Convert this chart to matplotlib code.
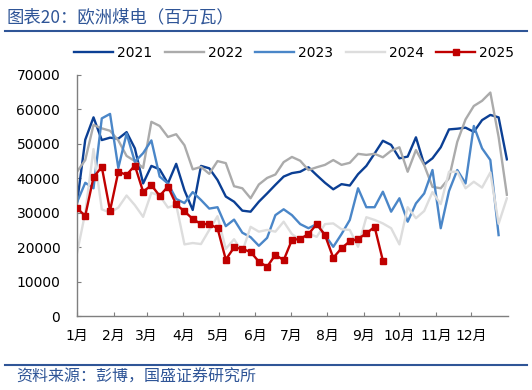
import numpy as np
import matplotlib
matplotlib.use("Agg")
from matplotlib import pyplot as plt
from matplotlib.lines import Line2D

plt.rcParams['font.family'] = ['DejaVu Sans', 'Noto Sans CJK SC']

# weekly values, week 1 at the start of January
y2021 = [32700, 51200, 57700, 51100, 51800, 51500, 53400, 48700, 38500, 43600,
         42600, 38500, 44200, 36500, 30800, 43600, 42900, 39500, 34700, 33200,
         30600, 30300, 33200, 35600, 38100, 40500, 41500, 41900, 43200, 40900,
         38700, 36800, 38300, 37900, 41200, 43600, 47200, 50900, 49700, 45800,
         46300, 51900, 44000, 45800, 49000, 54200, 54400, 54700, 53500, 56900,
         58400, 57700, 45500]
y2022 = [41900, 45300, 55500, 54500, 53800, 51000, 46500, 45000, 43000, 56400,
         55200, 52000, 52800, 49600, 42600, 43300, 41300, 45000, 44400, 37700,
         37100, 34200, 38200, 40100, 41100, 44700, 46200, 45100, 42400, 43200,
         43900, 45300, 43900, 44500, 47100, 46800, 47100, 46100, 48000, 49000,
         41900, 48200, 43800, 37500, 37100, 40000, 50600, 57100, 61000, 62500,
         64900, 52000, 35200]
y2023 = [33000, 38700, 37100, 57400, 58700, 43000, 53000, 44800, 47300, 51000,
         40500, 38500, 34000, 32800, 36000, 33700, 31200, 31600, 26100, 28000,
         24200, 22900, 20400, 22700, 29300, 31000, 29300, 26700, 25500, 26700,
         23500, 20100, 23800, 27900, 37100, 31600, 31600, 36100, 30300, 34200,
         27400, 32700, 35600, 42400, 25500, 36300, 42400, 38500, 55200, 48700,
         45300, 23500]
y2024 = [18200, 30000, 48500, 31000, 30000, 31500, 35000, 32200, 28800, 35800,
         35000, 31500, 32300, 20800, 21200, 20900, 25000, 29000, 19500, 22300,
         18700, 25900, 24500, 25000, 24500, 27400, 23800, 22100, 24000, 23000,
         26700, 26900, 25200, 25000, 20100, 28700, 27900, 26900, 25500, 20800,
         31600, 28400, 30500, 36000, 32500, 41900, 41900, 37100, 39000, 37300,
         41700, 26800, 34200]
y2025 = [31300, 29100, 40300, 43300, 30600, 41900, 41000, 43700, 36100, 38000,
         34900, 37600, 32400, 30400, 28200, 26700, 26700, 25500, 16400, 19900,
         19500, 18600, 15800, 14300, 17800, 16200, 22100, 22400, 23800, 26700,
         23500, 16900, 19700, 21700, 22400, 24000, 25900, 16100]

series = {'2021': y2021, '2022': y2022, '2023': y2023, '2024': y2024, '2025': y2025}
colors = {'2021': '#0B3F94', '2022': '#ABABAB', '2023': '#4A86C8',
          '2024': '#DDDDDD', '2025': '#C00000'}

month_days = [31, 28, 31, 30, 31, 30, 31, 31, 30, 31, 30, 31]
month_labels = ['1月', '2月', '3月', '4月', '5月', '6月', '7月', '8月', '9月',
                '10月', '11月', '12月']

fig = plt.figure(figsize=(5.32, 3.90), dpi=100)
ax = fig.add_axes([0.1447, 0.1897, 0.8103, 0.618])

for name, vals in series.items():
    x = 7 * np.arange(len(vals))
    if name == '2025':
        ax.plot(x, vals, color=colors[name], lw=1.7, marker='s', ms=4.3,
                zorder=5)
    else:
        ax.plot(x, vals, color=colors[name], lw=1.7)

ax.set_xlim(0, 365)
ax.set_ylim(0, 70000)
ax.set_yticks(np.arange(0, 70001, 10000))
starts = np.concatenate([[0], np.cumsum(month_days)[:-1]])
ax.set_xticks(starts)
ax.set_xticklabels(month_labels)

for s in ['top', 'right']:
    ax.spines[s].set_visible(False)
for s in ['left', 'bottom']:
    ax.spines[s].set_color('#7F7F7F')
    ax.spines[s].set_linewidth(1.0)
ax.tick_params(axis='both', direction='in', length=3, color='#7F7F7F',
               labelsize=10, labelcolor='black')
ax.tick_params(axis='x', pad=9)
ax.tick_params(axis='y', pad=12)

handles = [Line2D([], [], color=colors[n], lw=1.7,
                  marker='s' if n == '2025' else None, ms=4.3)
           for n in series]
fig.legend(handles, list(series.keys()), loc='center',
           bbox_to_anchor=(0.553, 0.864), ncol=5, frameon=False, fontsize=10,
           handlelength=2.8, handletextpad=0.3, columnspacing=0.9)

blue = '#2F5597'
fig.text(0.012, 0.956, '图表20：欧洲煤电（百万瓦）', color=blue, fontsize=12.5,
         ha='left', va='center', family=['Noto Sans CJK SC', 'DejaVu Sans'])
fig.add_artist(Line2D([0.01, 0.99], [0.921, 0.921], color=blue, lw=1.5))
fig.add_artist(Line2D([0.01, 0.99], [0.064, 0.064], color=blue, lw=1.5))
fig.text(0.03, 0.033, '资料来源：彭博，国盛证券研究所', color=blue, fontsize=11.5,
         ha='left', va='center', family=['Noto Sans CJK SC', 'DejaVu Sans'])

fig.savefig('out.png', dpi=100)
